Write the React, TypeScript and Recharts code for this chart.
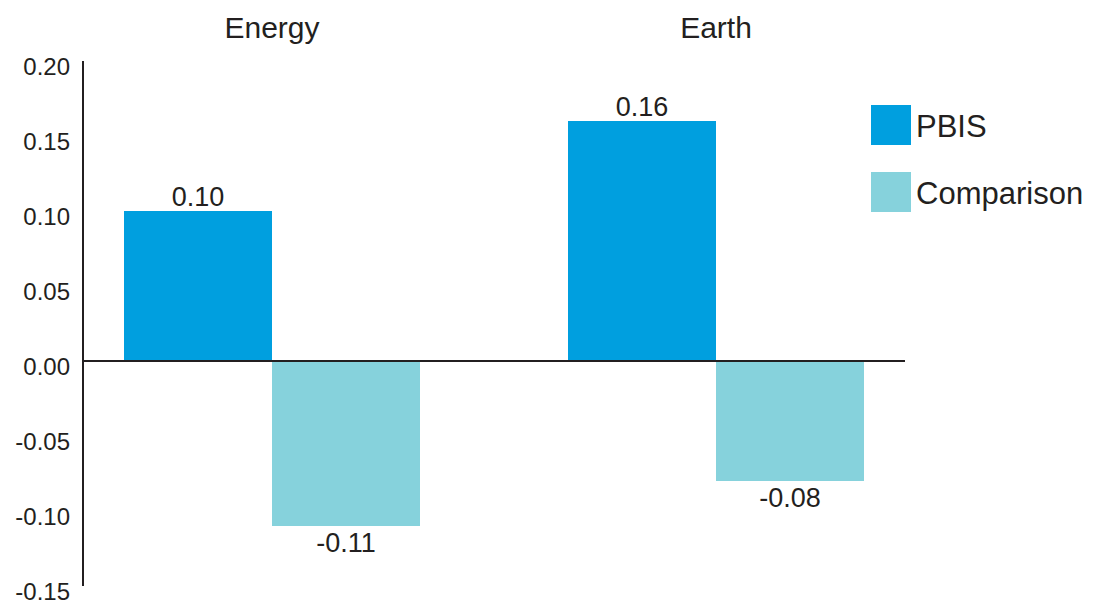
import { BarChart, Bar, XAxis, YAxis, ReferenceLine, LabelList } from "recharts";

const CATEGORIES = ["Energy", "Earth"];
const PBIS = [0.1, 0.16];
const COMPARISON = [-0.11, -0.08];
const Y_TICKS = [-0.15, -0.1, -0.05, 0, 0.05, 0.1, 0.15, 0.2];

const SERIES = [
  { key: "pbis", name: "PBIS", color: "#009FDF" },
  { key: "comparison", name: "Comparison", color: "#86D2DC" },
];

const INK = "#231F20";
const FONT = '"Liberation Sans", Arial, Helvetica, sans-serif';

const data = CATEGORIES.map((name, i) => ({
  name,
  pbis: PBIS[i],
  comparison: COMPARISON[i],
}));

function CategoryTick(props: any) {
  const { x, y, payload } = props;
  return (
    <text x={x} y={y - 23} textAnchor="middle" fontSize={30} fontFamily={FONT} fill={INK}>
      {payload.value}
    </text>
  );
}

function ValueTick(props: any) {
  const { x, y, payload } = props;
  return (
    <text x={x} y={y + 14} textAnchor="end" fontSize={24} fontFamily={FONT} fill={INK}>
      {Number(payload.value).toFixed(2)}
    </text>
  );
}

// value label above positive bars, below negative ones
function BarValue(props: any) {
  const vb = props.viewBox ?? props;
  const { x, y, width, height } = vb;
  const value = Number(props.value);
  const top = Math.min(y, y + height);
  const bottom = Math.max(y, y + height);
  const cy = value >= 0 ? top - 5 : bottom + 26;
  return (
    <text x={x + width / 2} y={cy} textAnchor="middle" fontSize={27} fontFamily={FONT} fill={INK}>
      {value.toFixed(2)}
    </text>
  );
}

export default function App() {
  return (
    <div style={{ position: "absolute", left: 0, top: 0, width: 1093, height: 602, background: "#fff" }}>
      <BarChart
        width={1093}
        height={602}
        data={data}
        margin={{ top: 11, right: 188, bottom: 16, left: 0 }}
        barGap={0}
        barSize={148}
      >
        <XAxis
          dataKey="name"
          orientation="top"
          height={50}
          axisLine={false}
          tickLine={false}
          tickSize={0}
          tickMargin={0}
          interval={0}
          padding={{ left: -33, right: -33 }}
          tick={<CategoryTick />}
        />
        <YAxis
          width={83}
          domain={[-0.15, 0.2]}
          ticks={Y_TICKS}
          interval={0}
          allowDataOverflow
          axisLine={{ stroke: INK, strokeWidth: 2 }}
          tickLine={false}
          tickSize={0}
          tickMargin={13}
          tick={<ValueTick />}
        />
        {SERIES.map((s) => (
          <Bar key={s.key} dataKey={s.key} name={s.name} fill={s.color} isAnimationActive={false}>
            <LabelList dataKey={s.key} content={<BarValue />} />
          </Bar>
        ))}
        <ReferenceLine y={0} stroke={INK} strokeWidth={2} />
      </BarChart>

      {SERIES.map((s, i) => (
        <div key={s.key} style={{ position: "absolute", left: 871, top: 105 + i * 67, height: 40 }}>
          <div style={{ position: "absolute", left: 0, top: 0, width: 40, height: 40, background: s.color }} />
          <div
            style={{
              position: "absolute",
              left: 45,
              top: 2,
              lineHeight: "40px",
              fontSize: 31,
              fontFamily: FONT,
              color: INK,
              whiteSpace: "nowrap",
            }}
          >
            {s.name}
          </div>
        </div>
      ))}
    </div>
  );
}
